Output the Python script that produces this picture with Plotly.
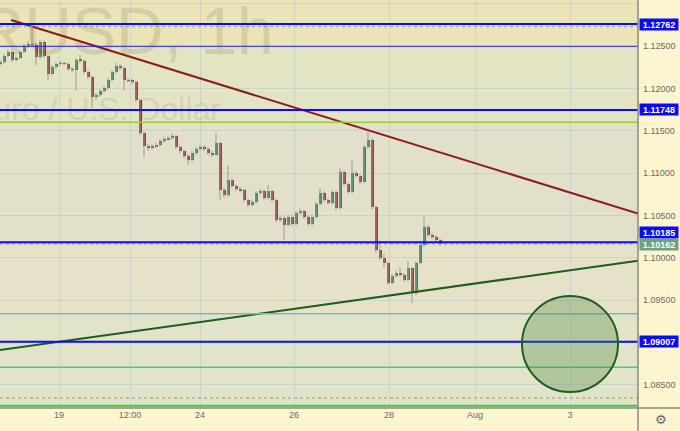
import plotly.graph_objects as go

# ---- price data (2-hour candles, EUR/USD) ----
opens = [1.12290, 1.12314, 1.12385, 1.12432, 1.12338, 1.12361, 1.12432, 1.12503, 1.12527, 1.12520,
         1.12373, 1.12551, 1.12385, 1.12172, 1.12255, 1.12291, 1.12302, 1.12296, 1.12231, 1.12220,
         1.12338, 1.12330, 1.12196, 1.12137, 1.11900, 1.11924, 1.11971, 1.12007, 1.12101, 1.12196,
         1.12267, 1.12243, 1.12101, 1.12095, 1.12078, 1.11865, 1.11475, 1.11321, 1.11298, 1.11321,
         1.11333, 1.11380, 1.11404, 1.11416, 1.11440, 1.11309, 1.11262, 1.11203, 1.11156, 1.11239,
         1.11286, 1.11309, 1.11286, 1.11239, 1.11215, 1.11357, 1.10801, 1.10742, 1.10919, 1.10849,
         1.10813, 1.10801, 1.10683, 1.10624, 1.10659, 1.10766, 1.10789, 1.10707, 1.10789, 1.10683,
         1.10447, 1.10470, 1.10388, 1.10482, 1.10399, 1.10529, 1.10553, 1.10482, 1.10399, 1.10482,
         1.10636, 1.10766, 1.10683, 1.10648, 1.10778, 1.10588, 1.11014, 1.10872, 1.10778, 1.11002,
         1.10967, 1.10896, 1.11309, 1.11392, 1.10600, 1.10092, 1.09997, 1.09938, 1.09702, 1.09785,
         1.09820, 1.09797, 1.09737, 1.09879, 1.09584, 1.09938, 1.10151, 1.10364, 1.10269, 1.10246,
         1.10210]
highs = [1.12340, 1.12410, 1.12460, 1.12450, 1.12390, 1.12455, 1.12530, 1.12560, 1.12740, 1.12540,
         1.12580, 1.12570, 1.12400, 1.12280, 1.12315, 1.12325, 1.12320, 1.12310, 1.12255, 1.12360,
         1.12397, 1.12345, 1.12215, 1.12150, 1.11950, 1.11995, 1.12030, 1.12125, 1.12220, 1.12302,
         1.12290, 1.12260, 1.12125, 1.12120, 1.12095, 1.11880, 1.11490, 1.11345, 1.11345, 1.11360,
         1.11405, 1.11430, 1.11440, 1.11470, 1.11455, 1.11330, 1.11280, 1.11225, 1.11265, 1.11310,
         1.11335, 1.11330, 1.11305, 1.11260, 1.11475, 1.11370, 1.10830, 1.11097, 1.10940, 1.10870,
         1.10840, 1.10815, 1.10700, 1.10685, 1.10790, 1.10815, 1.10805, 1.10860, 1.10805, 1.10700,
         1.10495, 1.10490, 1.10505, 1.10500, 1.10555, 1.10580, 1.10570, 1.10500, 1.10505, 1.10660,
         1.10825, 1.10785, 1.10700, 1.10800, 1.10795, 1.11060, 1.11030, 1.10890, 1.11156, 1.11025,
         1.10985, 1.11330, 1.11487, 1.11410, 1.10620, 1.10200, 1.10050, 1.09955, 1.09810, 1.09845,
         1.09890, 1.09820, 1.09960, 1.09895, 1.09960, 1.10175, 1.10482, 1.10390, 1.10290, 1.10265,
         1.10225]
lows = [1.12265, 1.12295, 1.12370, 1.12310, 1.12320, 1.12345, 1.12420, 1.12480, 1.12490, 1.12279,
        1.12350, 1.12360, 1.12101, 1.12150, 1.12235, 1.12270, 1.12275, 1.12210, 1.12195, 1.11983,
        1.12300, 1.12175, 1.12110, 1.11770, 1.11870, 1.11905, 1.11950, 1.11990, 1.12085, 1.12180,
        1.12220, 1.11983, 1.12070, 1.12050, 1.11840, 1.11450, 1.11191, 1.11270, 1.11280, 1.11300,
        1.11315, 1.11360, 1.11385, 1.11395, 1.11285, 1.11235, 1.11180, 1.11097, 1.11135, 1.11220,
        1.11265, 1.11260, 1.11215, 1.11190, 1.11200, 1.10683, 1.10715, 1.10725, 1.10825, 1.10790,
        1.10775, 1.10660, 1.10600, 1.10605, 1.10640, 1.10745, 1.10685, 1.10690, 1.10660, 1.10420,
        1.10425, 1.10210, 1.10370, 1.10375, 1.10380, 1.10510, 1.10460, 1.10375, 1.10380, 1.10465,
        1.10620, 1.10660, 1.10625, 1.10630, 1.10560, 1.10570, 1.10850, 1.10755, 1.10760, 1.10945,
        1.10870, 1.10880, 1.11290, 1.10570, 1.10060, 1.09970, 1.09879, 1.09680, 1.09685, 1.09765,
        1.09775, 1.09715, 1.09720, 1.09466, 1.09560, 1.09920, 1.10130, 1.10245, 1.10220, 1.10180,
        1.10140]
closes = [1.12314, 1.12385, 1.12432, 1.12338, 1.12361, 1.12432, 1.12503, 1.12527, 1.12520, 1.12373,
          1.12551, 1.12385, 1.12172, 1.12255, 1.12291, 1.12302, 1.12296, 1.12231, 1.12220, 1.12338,
          1.12330, 1.12196, 1.12137, 1.11900, 1.11924, 1.11971, 1.12007, 1.12101, 1.12196, 1.12267,
          1.12243, 1.12101, 1.12095, 1.12078, 1.11865, 1.11475, 1.11321, 1.11298, 1.11321, 1.11333,
          1.11380, 1.11404, 1.11416, 1.11440, 1.11309, 1.11262, 1.11203, 1.11156, 1.11239, 1.11286,
          1.11309, 1.11286, 1.11239, 1.11215, 1.11357, 1.10801, 1.10742, 1.10919, 1.10849, 1.10813,
          1.10801, 1.10683, 1.10624, 1.10659, 1.10766, 1.10789, 1.10707, 1.10789, 1.10683, 1.10447,
          1.10470, 1.10388, 1.10482, 1.10399, 1.10529, 1.10553, 1.10482, 1.10399, 1.10482, 1.10636,
          1.10766, 1.10683, 1.10648, 1.10778, 1.10588, 1.11014, 1.10872, 1.10778, 1.11002, 1.10967,
          1.10896, 1.11309, 1.11392, 1.10600, 1.10092, 1.09997, 1.09938, 1.09702, 1.09785, 1.09820,
          1.09797, 1.09737, 1.09879, 1.09584, 1.09938, 1.10151, 1.10364, 1.10269, 1.10246, 1.10210,
          1.10162]

# time-axis labels (positions in bar units)
x_tick_pos = [14.75, 32.5, 50, 73.5, 97.25, 118.75, 142.5]
x_tick_text = ["19", "12:00", "24", "26", "28", "Aug", "3"]
y_ticks = [1.085, 1.090, 1.095, 1.100, 1.105, 1.110, 1.115, 1.120, 1.125, 1.130]
y_tick_text = ["1.08500", "", "1.09500", "1.10000", "1.10500", "1.11000", "1.11500",
               "1.12000", "1.12500", "1.13000"]

# horizontal levels
blue_levels = [1.12762, 1.11748, 1.10185, 1.09007]
thin_blue_level = 1.12500
yellowgreen_level = 1.11602
lightblue_level = 1.09339
teal_level = 1.08706
green_level = 1.08252
dotted_levels = [1.12734, 1.10162, 1.08343]
last_price = 1.10162

# trend lines (bar, price)
resistance = ([2.75, 159.5], [1.12811, 1.10524])
support = ([0, 159.5], [1.08910, 1.09966])
target_circle = dict(x0=130.5, x1=154.5, y0=1.08414, y1=1.09548)

# background bands (price ranges)
bands = [(1.12500, 1.1310, "#ebe4b8"),
         (1.11602, 1.12500, "#e3e4c3"),
         (1.10185, 1.11602, "#e2dfca"),
         (1.09339, 1.10185, "#e6e2c7"),
         (1.0800, 1.09339, "#e1e4c8")]

FONT = "Liberation Sans, Arial, sans-serif"
UP, DOWN = "#2e8a62", "#a53434"
Y_RANGE = [1.08225, 1.13047]
X_RANGE = [0, 159.5]

idx = list(range(len(closes)))

fig = go.Figure()

# wicks
wx, wy = [], []
for i, h, l in zip(idx, highs, lows):
    wx += [i, i, None]
    wy += [l, h, None]
fig.add_trace(go.Scatter(x=wx, y=wy, mode="lines", line=dict(color="#9b9b94", width=1),
                         hoverinfo="skip"))

# bodies
base = [min(o, c) for o, c in zip(opens, closes)]
height = [max(abs(c - o), 0.00004) for o, c in zip(opens, closes)]
colors = [UP if c >= o else DOWN for o, c in zip(opens, closes)]
fig.add_trace(go.Bar(x=idx, y=height, base=base, width=0.75,
                     marker=dict(color=colors, line=dict(width=0))))

# trend lines
fig.add_trace(go.Scatter(x=resistance[0], y=resistance[1], mode="lines",
                         line=dict(color="#8b1c1c", width=2)))
fig.add_trace(go.Scatter(x=support[0], y=support[1], mode="lines",
                         line=dict(color="#1f5c1f", width=2)))

shapes = []
for y0, y1, col in bands:
    shapes.append(dict(type="rect", xref="paper", yref="y", x0=0, x1=1, y0=y0, y1=y1,
                       fillcolor=col, line=dict(width=0), layer="below"))


def hline(y, color, width, dash="solid"):
    return dict(type="line", xref="paper", yref="y", x0=0, x1=1, y0=y, y1=y,
                line=dict(color=color, width=width, dash=dash), layer="above")


for lv in dotted_levels:
    shapes.append(hline(lv, "#b3b0a0", 1.5, "dot"))
shapes.append(hline(thin_blue_level, "#1f1fff", 1))
shapes.append(hline(yellowgreen_level, "#9ccc2e", 1.5))
shapes.append(hline(lightblue_level, "#7db1d4", 1.5))
shapes.append(hline(teal_level, "#3fcc8c", 1.5))
shapes.append(hline(green_level, "#3ccf3c", 2))
for lv in blue_levels:
    shapes.append(hline(lv, "#0a0aff", 2))

shapes.append(dict(type="circle", xref="x", yref="y", **target_circle,
                   fillcolor="rgba(70,130,60,0.30)", line=dict(color="#1f5c1f", width=2),
                   layer="above"))

# axis frame lines
shapes.append(dict(type="line", xref="paper", yref="paper", x0=1, x1=1, y0=-0.06, y1=1,
                   line=dict(color="#8a8a80", width=1.5)))
shapes.append(dict(type="line", xref="paper", yref="paper", x0=0, x1=1.07, y0=0, y1=0,
                   line=dict(color="#8a8a80", width=1.5)))

annotations = []
# watermark
annotations.append(dict(text="EURUSD, 1h", xref="paper", yref="paper", x=276 / 638, y=1 - 31 / 408,
                        xanchor="right", yanchor="middle", showarrow=False,
                        font=dict(family=FONT, size=66, color="rgba(60,50,20,0.12)")))
annotations.append(dict(text="Euro / U.S. Dollar", xref="paper", yref="paper", x=223 / 638,
                        y=1 - 109 / 408, xanchor="right", yanchor="middle", showarrow=False,
                        font=dict(family=FONT, size=32, color="rgba(60,50,20,0.11)")))

label_shift = {1.10185: 10}
for lv in blue_levels:
    annotations.append(dict(text=f"<b>{lv:.5f}</b>", xref="paper", yref="y", x=1, y=lv,
                            xanchor="left", yanchor="middle", xshift=1, yshift=label_shift.get(lv, 0),
                            showarrow=False, bgcolor="#0a0aff", width=38, height=11, borderpad=0,
                            font=dict(family=FONT, size=9, color="white")))
annotations.append(dict(text=f"<b>{last_price:.5f}</b>", xref="paper", yref="y", x=1, y=last_price,
                        xanchor="left", yanchor="middle", xshift=1, showarrow=False,
                        bgcolor="#6fa283", width=38, height=11, borderpad=0,
                        font=dict(family=FONT, size=9, color="white")))
annotations.append(dict(text="⚙", xref="paper", yref="paper", x=661 / 638, y=-12 / 408,
                        xanchor="center", yanchor="middle", showarrow=False,
                        font=dict(family="DejaVu Sans", size=13, color="#666")))

fig.update_layout(
    width=680, height=431,
    margin=dict(l=0, r=42, t=0, b=23),
    paper_bgcolor="#fdf4d0", plot_bgcolor="#e1e4c8",
    showlegend=False, barmode="overlay", bargap=0,
    shapes=shapes, annotations=annotations,
    xaxis=dict(range=X_RANGE, tickvals=x_tick_pos, ticktext=x_tick_text, showgrid=True,
               gridcolor="rgba(175,195,210,0.45)", gridwidth=1, zeroline=False, ticks="",
               showline=False, tickfont=dict(family=FONT, size=9, color="#6b6b66"), fixedrange=True),
    yaxis=dict(range=Y_RANGE, side="right", tickvals=y_ticks, ticktext=y_tick_text,
               showgrid=True, gridcolor="rgba(175,195,210,0.45)", gridwidth=1, zeroline=False,
               ticks="", showline=False, ticklabelstandoff=4,
               tickfont=dict(family=FONT, size=9, color="#6b6b66"), fixedrange=True),
)

fig.write_html("out.html", config={"displayModeBar": False})

# remove default page margin so the figure sits at the window's top-left corner
with open("out.html", "r", encoding="utf-8") as f:
    html = f.read()
html = html.replace("<head>", "<head><style>html,body{margin:0;padding:0;overflow:hidden;}</style>", 1)
with open("out.html", "w", encoding="utf-8") as f:
    f.write(html)
